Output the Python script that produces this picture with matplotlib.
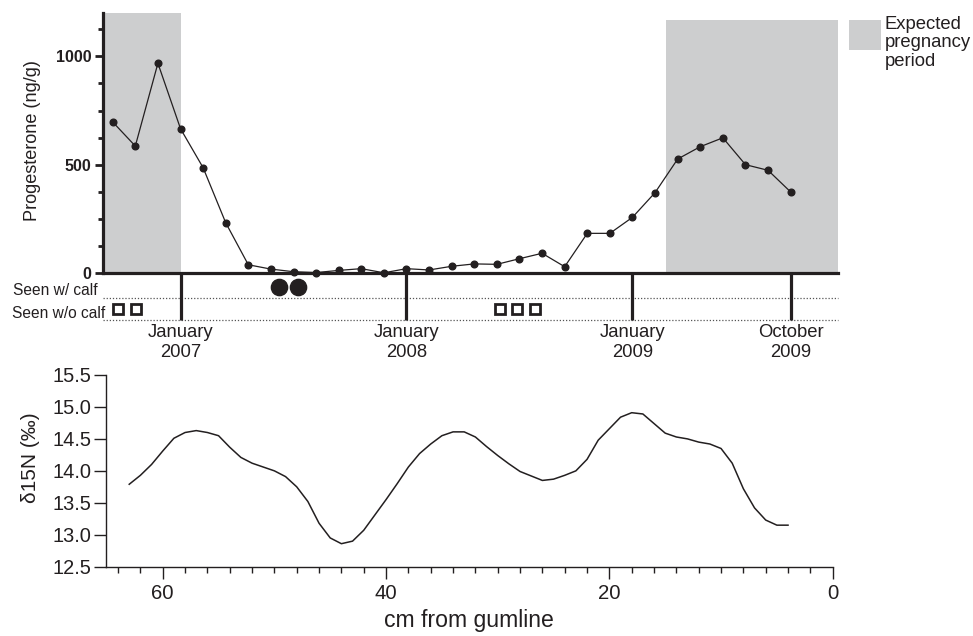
import matplotlib
matplotlib.use("Agg")
import matplotlib.pyplot as plt
from matplotlib.patches import Rectangle
from matplotlib.ticker import MultipleLocator, FixedLocator

plt.rcParams['font.family'] = ['Liberation Sans', 'DejaVu Sans']
INK = '#231f20'
GRAY = '#cdcecf'

# ---------------- data ----------------
# progesterone samples (position in cm from gumline, ng/g)
prog_cm = [64.5, 62.5, 60.5, 58.5, 56.5, 54.5, 52.5, 50.5, 48.5, 46.5, 44.5,
           42.5, 40.5, 38.5, 36.5, 34.5, 32.5, 30.5, 28.5, 26.5, 24.5, 22.5,
           20.5, 18.5, 16.5, 14.5, 12.5, 10.5, 8.5, 6.5, 4.5]
prog_val = [697, 586, 968, 666, 486, 232, 38, 18, 6, 2, 12,
            20, 1, 20, 14, 31, 42, 40, 66, 91, 29, 183,
            183, 257, 371, 526, 583, 624, 500, 474, 374]

# date ticks (position in cm) and labels
date_pos = [58.5, 38.5, 18.5, 4.5]
date_labels = ['January\n2007', 'January\n2008', 'January\n2009', 'October\n2009']

# expected pregnancy periods (cm from, cm to)
preg_periods = [(65.36, 58.5), (15.5, 0.31)]

# sightings
seen_with_calf = [49.8, 48.1]
seen_without_calf = [64.0, 62.4, 30.2, 28.7, 27.1]

# d15N profile
n_cm = [63, 62, 61, 60, 59, 58, 57, 56, 55, 54, 53, 52, 51, 50, 49, 48, 47, 46,
        45, 44, 43, 42, 41, 40, 39, 38, 37, 36, 35, 34, 33, 32, 31, 30, 29, 28,
        27, 26, 25, 24, 23, 22, 21, 20, 19, 18, 17, 16, 15, 14, 13, 12, 11, 10,
        9, 8, 7, 6, 5, 4]
n_val = [13.79, 13.93, 14.10, 14.31, 14.51, 14.60, 14.63, 14.60, 14.55, 14.37,
         14.21, 14.12, 14.06, 14.00, 13.91, 13.75, 13.52, 13.18, 12.95, 12.86,
         12.90, 13.07, 13.31, 13.55, 13.80, 14.06, 14.27, 14.42, 14.55, 14.61,
         14.61, 14.53, 14.38, 14.24, 14.11, 13.99, 13.92, 13.85, 13.87, 13.93,
         14.00, 14.18, 14.48, 14.66, 14.84, 14.91, 14.89, 14.74, 14.59, 14.53,
         14.50, 14.45, 14.42, 14.35, 14.12, 13.72, 13.42, 13.23, 13.15, 13.15]

W, H = 973, 636
fig = plt.figure(figsize=(W / 100, H / 100), dpi=100)

def frac(x0, y0, x1, y1):
    return [x0 / W, 1 - y1 / H, (x1 - x0) / W, (y1 - y0) / H]

# ---------------- top panel ----------------
ax = fig.add_axes(frac(103, 13, 838, 273))
ax.set_xlim(65.36, 0.31)
ax.set_ylim(0, 1200)
tops = [1.0, 0.973]
for (a, b), t in zip(preg_periods, tops):
    ax.axvspan(a, b, ymin=0, ymax=t, color=GRAY, lw=0, zorder=0)
ax.plot(prog_cm, prog_val, '-o', color=INK, lw=0.9, ms=4.8, zorder=3, clip_on=False)

for s in ['top', 'right']:
    ax.spines[s].set_visible(False)
for s in ['left', 'bottom']:
    ax.spines[s].set_linewidth(2.3)
    ax.spines[s].set_color(INK)
ax.yaxis.set_major_locator(FixedLocator([0, 500, 1000]))
ax.yaxis.set_minor_locator(MultipleLocator(125))
ax.tick_params(axis='y', which='major', length=5.8, width=2.0, color=INK,
               labelsize=11.5, pad=2.5, labelcolor=INK)
ax.tick_params(axis='y', which='minor', length=3.6, width=2.0, color=INK)
for lab in ax.get_yticklabels():
    lab.set_fontweight('bold')
ax.set_xticks(date_pos)
ax.set_xticklabels(date_labels)
ax.tick_params(axis='x', which='major', direction='out', length=34, width=2.3,
               color=INK, labelsize=13.3, pad=3, labelcolor=INK)
ax.patch.set_alpha(0)
fig.text(33 / W, 1 - 141 / H, 'Progesterone (ng/g)', rotation=90, ha='center',
         va='center', fontsize=13.1, color=INK)

# ---------------- sightings rows ----------------
ev = fig.add_axes(frac(103, 276, 838, 320), zorder=-1)
ev.set_xlim(65.36, 0.31)
ev.set_ylim(-0.5, 1.5)
ev.axis('off')
for yl in [-0.5, 0.5]:
    ev.axhline(yl, color='#555555', lw=0.9, ls=(0, (1, 1.5)), clip_on=False)
ev.plot(seen_with_calf, [1] * len(seen_with_calf), 'o', color=INK, ms=11.7, ls='none')
ev.plot(seen_without_calf, [0] * len(seen_without_calf), 's', mfc='white', mec=INK,
        mew=2.0, ms=7.2, ls='none')
fig.text(98 / W, 1 - 291 / H, 'Seen w/ calf', ha='right', va='center',
         fontsize=11.2, color=INK)
fig.text(105 / W, 1 - 313 / H, 'Seen w/o calf', ha='right', va='center',
         fontsize=11.2, color=INK)

# legend
fig.patches.append(Rectangle((849 / W, 1 - 50 / H), 32 / W, 30 / H,
                             transform=fig.transFigure, color=GRAY, lw=0))
fig.text(885 / W, 1 - 16 / H, 'Expected\npregnancy\nperiod', ha='left', va='top',
         fontsize=13.3, color=INK, linespacing=1.1)

# ---------------- bottom panel ----------------
bx = fig.add_axes(frac(106, 375, 832.7, 566.7))
bx.plot(n_cm, n_val, '-', color=INK, lw=1.1)
bx.set_xlim(65.08, 0)
bx.set_ylim(12.5, 15.5)
for s in ['top', 'right']:
    bx.spines[s].set_visible(False)
for s in ['left', 'bottom']:
    bx.spines[s].set_linewidth(1.0)
    bx.spines[s].set_color(INK)
bx.xaxis.set_major_locator(FixedLocator([60, 40, 20, 0]))
bx.xaxis.set_minor_locator(MultipleLocator(2))
bx.yaxis.set_major_locator(MultipleLocator(0.5))
bx.yaxis.set_major_formatter(matplotlib.ticker.FormatStrFormatter('%.1f'))
bx.tick_params(axis='x', which='major', length=8.6, width=1.0, color=INK,
               labelsize=14.7, pad=4, labelcolor=INK)
bx.tick_params(axis='x', which='minor', length=4.3, width=1.0, color=INK)
bx.tick_params(axis='y', which='major', length=9, width=1.0, color=INK,
               labelsize=14.4, pad=1.5, labelcolor=INK)
fig.text(30 / W, 1 - 458 / H, 'δ15N (‰)', rotation=90, ha='center', va='center',
         fontsize=15, color=INK)
fig.text(469 / W, 1 - 621 / H, 'cm from gumline', ha='center', va='center',
         fontsize=16.6, color=INK)

fig.savefig('out.png', dpi=100)
